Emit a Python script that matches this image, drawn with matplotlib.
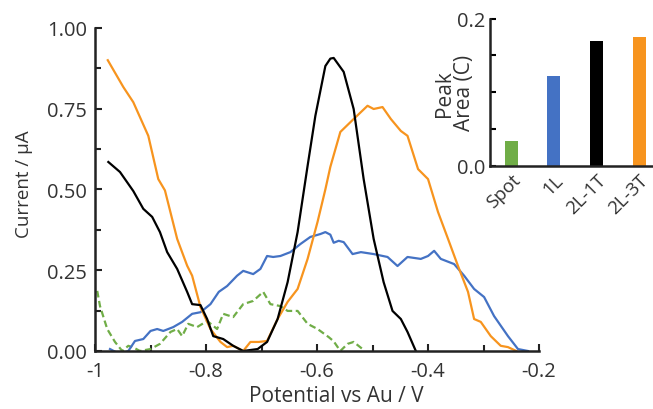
import matplotlib
matplotlib.use("Agg")
import matplotlib.pyplot as plt
import numpy as np

plt.rcParams['font.family'] = ['Open Sans', 'DejaVu Sans']
plt.rcParams['axes.unicode_minus'] = False

# --- stripping voltammograms ---
orange_x = [-0.977, -0.949, -0.931, -0.904, -0.886, -0.874, -0.852, -0.834, -0.825, -0.81, -0.792,
            -0.774, -0.762, -0.751, -0.733, -0.72, -0.705, -0.69, -0.671, -0.653, -0.635, -0.617,
            -0.599, -0.585, -0.576, -0.558, -0.534, -0.509, -0.498, -0.482, -0.467, -0.449, -0.437,
            -0.418, -0.40, -0.382, -0.364, -0.346, -0.328, -0.317, -0.305, -0.287, -0.269, -0.256, -0.241]
orange_y = [0.90, 0.817, 0.77, 0.666, 0.532, 0.497, 0.347, 0.264, 0.233, 0.136, 0.068,
            0.028, 0.012, 0.016, 0.0, 0.028, 0.028, 0.031, 0.099, 0.152, 0.192, 0.285,
            0.40, 0.50, 0.57, 0.678, 0.718, 0.759, 0.749, 0.755, 0.718, 0.681, 0.666,
            0.563, 0.532, 0.43, 0.347, 0.263, 0.183, 0.099, 0.09, 0.046, 0.016, 0.012, 0.0]

black_x = [-0.976, -0.955, -0.931, -0.913, -0.897, -0.883, -0.87, -0.852, -0.834, -0.825, -0.81,
           -0.798, -0.787, -0.769, -0.751, -0.733, -0.707, -0.69, -0.671, -0.653, -0.635, -0.617,
           -0.603, -0.585, -0.576, -0.570, -0.552, -0.534, -0.516, -0.498, -0.48, -0.464, -0.449,
           -0.437, -0.422]
black_y = [0.585, 0.554, 0.495, 0.44, 0.415, 0.368, 0.306, 0.254, 0.183, 0.145, 0.142,
           0.099, 0.046, 0.037, 0.016, 0.0, 0.006, 0.028, 0.099, 0.213, 0.368, 0.573,
           0.728, 0.882, 0.905, 0.907, 0.864, 0.749, 0.532, 0.347, 0.213, 0.124, 0.099,
           0.059, 0.0]

blue_x = [-0.973, -0.955, -0.94, -0.928, -0.913, -0.9, -0.888, -0.877, -0.859, -0.843, -0.825,
          -0.81, -0.792, -0.777, -0.762, -0.744, -0.733, -0.715, -0.702, -0.69, -0.679, -0.666,
          -0.648, -0.63, -0.612, -0.594, -0.585, -0.576, -0.57, -0.561, -0.552, -0.536, -0.521,
          -0.498, -0.473, -0.455, -0.437, -0.413, -0.40, -0.389, -0.377, -0.353, -0.335, -0.317,
          -0.299, -0.281, -0.256, -0.238, -0.22]
blue_y = [0.006, -0.01, 0.0, 0.031, 0.037, 0.062, 0.068, 0.062, 0.074, 0.09, 0.115,
          0.12, 0.145, 0.183, 0.201, 0.233, 0.248, 0.238, 0.254, 0.294, 0.291, 0.294,
          0.306, 0.331, 0.353, 0.362, 0.368, 0.36, 0.335, 0.341, 0.337, 0.300, 0.306,
          0.300, 0.291, 0.263, 0.291, 0.285, 0.294, 0.31, 0.285, 0.269, 0.233, 0.192,
          0.167, 0.108, 0.046, 0.006, 0.0]

green_x = [-0.996, -0.991, -0.978, -0.964, -0.951, -0.94, -0.93, -0.919, -0.9, -0.883, -0.864,
           -0.852, -0.843, -0.832, -0.816, -0.798, -0.78, -0.769, -0.751, -0.733, -0.715, -0.697,
           -0.684, -0.666, -0.653, -0.635, -0.617, -0.599, -0.579, -0.57, -0.558, -0.545, -0.534,
           -0.518]
green_y = [0.186, 0.139, 0.068, 0.028, 0.0, 0.016, 0.01, 0.0, 0.006, 0.022, 0.059,
           0.068, 0.046, 0.084, 0.074, 0.093, 0.068, 0.115, 0.105, 0.145, 0.155, 0.183,
           0.145, 0.139, 0.124, 0.124, 0.084, 0.068, 0.043, 0.03, 0.0, 0.022, 0.028,
           0.006]

x_ticks = [-1, -0.8, -0.6, -0.4, -0.2]
x_ticklabels = ['-1', '-0.8', '-0.6', '-0.4', '-0.2']
y_ticks = [0, 0.25, 0.5, 0.75, 1.0]
y_ticklabels = ['0.00', '0.25', '0.50', '0.75', '1.00']

# --- inset bars ---
bar_names = ['Spot', '1L', '2L-1T', '2L-3T']
bar_vals = [0.034, 0.122, 0.169, 0.175]

c_orange = '#f7941e'
c_blue = '#4472c4'
c_green = '#70ad47'
c_black = '#000000'
c_text = '#333333'

fig = plt.figure(figsize=(6.53, 4.10), dpi=100)
ax = fig.add_axes([0.1455, 0.1415, 0.68, 0.788])

ax.plot(green_x, green_y, color=c_green, lw=1.6, ls=(0, (3, 1.6)))
ax.plot(blue_x, blue_y, color=c_blue, lw=1.6)
ax.plot(orange_x, orange_y, color=c_orange, lw=1.6)
ax.plot(black_x, black_y, color=c_black, lw=1.6)

ax.set_xlim(-1, -0.2)
ax.set_ylim(0, 1.0)
ax.set_xticks(x_ticks)
ax.set_xticklabels(x_ticklabels)
ax.set_yticks(y_ticks)
ax.set_yticklabels(y_ticklabels)
ax.set_xticks(np.arange(-0.9, -0.2, 0.2), minor=True)
ax.set_yticks(np.arange(0.125, 1.0, 0.25), minor=True)
ax.tick_params(which='both', direction='in', width=1.5, labelsize=14.5, color='#222222',
               labelcolor=c_text)
ax.tick_params(which='major', length=5)
ax.tick_params(which='minor', length=4)
ax.tick_params(axis='x', pad=7)
ax.tick_params(axis='y', pad=6)
for s in ['top', 'right']:
    ax.spines[s].set_visible(False)
for s in ['left', 'bottom']:
    ax.spines[s].set_linewidth(1.8)
    ax.spines[s].set_color('#222222')
ax.set_xlabel('Potential vs Au / V', fontsize=15, color=c_text)
ax.xaxis.set_label_coords(0.543, -0.105)
ax.set_ylabel('Current / μA', fontsize=13.5, color=c_text)
ax.yaxis.set_label_coords(-0.14, 0.52)

ax2 = fig.add_axes([0.750, 0.593, 0.26, 0.359])
ax2.bar(range(len(bar_names)), bar_vals, width=0.305,
        color=[c_green, c_blue, c_black, c_orange])
ax2.set_xlim(-0.503, 3.474)
ax2.set_ylim(0, 0.2)
ax2.set_yticks([0, 0.2])
ax2.set_yticklabels(['0.0', '0.2'])
ax2.set_yticks([0.05, 0.1, 0.15], minor=True)
ax2.set_xticks(range(len(bar_names)))
ax2.set_xticklabels(bar_names, rotation=45, ha='right', rotation_mode='anchor')
ax2.tick_params(axis='x', length=0, labelsize=13.5, pad=3, labelcolor=c_text)
ax2.tick_params(axis='y', which='both', direction='in', width=1.5, labelsize=14.5, pad=3,
                labelcolor=c_text)
ax2.tick_params(axis='y', which='major', length=4)
ax2.tick_params(axis='y', which='minor', length=4)
for s in ['top', 'right']:
    ax2.spines[s].set_visible(False)
for s in ['left', 'bottom']:
    ax2.spines[s].set_linewidth(1.8)
    ax2.spines[s].set_color('#222222')
ax2.set_ylabel('Peak\nArea (C)', fontsize=15, linespacing=0.95, color=c_text)
ax2.yaxis.set_label_coords(-0.085, 0.5)

fig.savefig('out.png', dpi=100)
